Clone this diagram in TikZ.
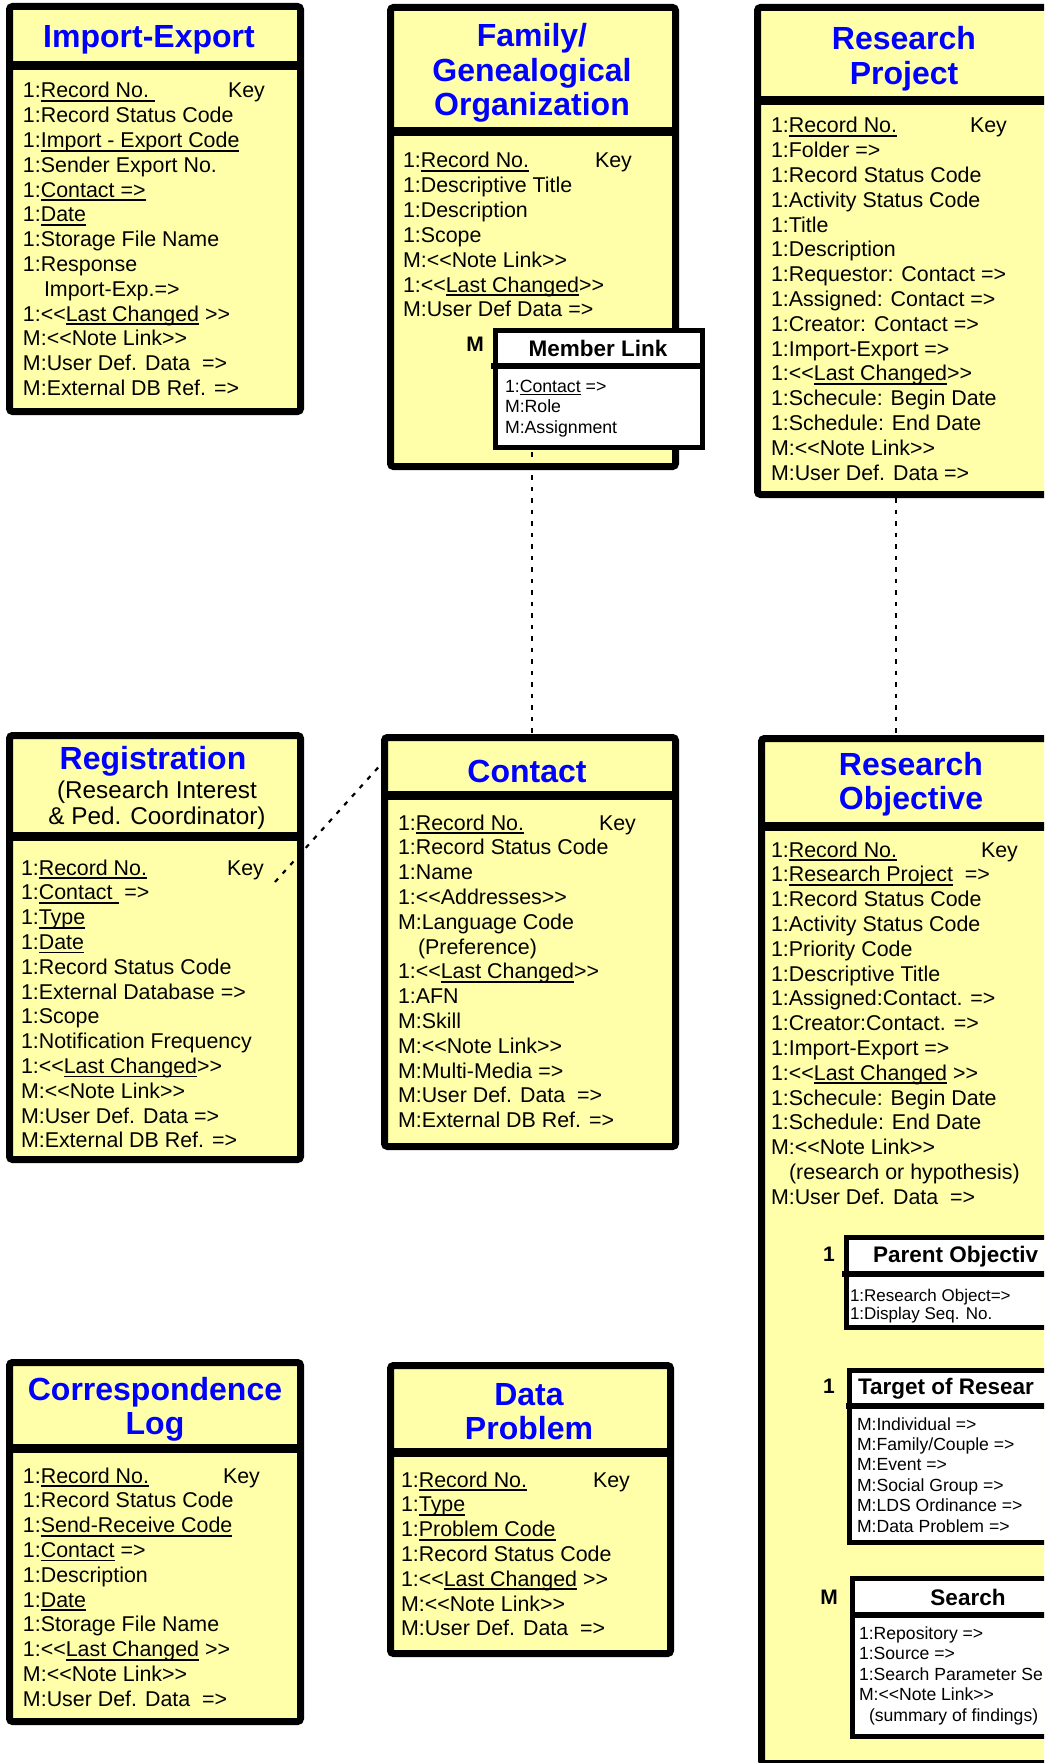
\documentclass[tikz,border=0pt]{standalone}
\usepackage{fontspec}
\setmainfont{Liberation Sans}[Ligatures=TeXOff]
\definecolor{pale}{RGB}{255,255,170}
\definecolor{tblue}{RGB}{0,0,255}
\newcommand\ulx[1]{\setbox0\hbox{#1}\rlap{\rule[-0.19em]{\wd0}{0.09em}}\box0\relax}
\newcommand\bodyf{\fontsize{21.4}{24.8}\selectfont}
\newcommand\titlef{\fontsize{32}{34.5}\selectfont\bfseries\color{tblue}}
\newcommand\subtf{\fontsize{24.3}{26}\selectfont}
\newcommand\mlf{\fontsize{17.7}{20.5}\selectfont}
\newcommand\pof{\fontsize{17}{18}\selectfont}
\newcommand\tof{\fontsize{17.6}{20.4}\selectfont}
\newcommand\lblf{\fontsize{21}{24}\selectfont\bfseries}
\newcommand\sbtf{\fontsize{22.5}{26}\selectfont\bfseries}
\begin{document}
\begin{tikzpicture}[x=1pt,y=-1pt,
  ent/.style={draw=black, line width=7pt, fill=pale, rounded corners=3pt, inner sep=0pt, outer sep=0pt, anchor=north west},
  subbox/.style={draw=black, line width=5pt, fill=white, inner sep=0pt, outer sep=0pt, anchor=north west},
  sepl/.style={line width=9pt},
  subsep/.style={line width=6.5pt},
  txt/.style={inner sep=0pt, outer sep=0pt, anchor=base west},
  ttl/.style={inner sep=0pt, outer sep=0pt, anchor=base},
  dotl/.style={line width=2.2pt, dash pattern=on 4.5pt off 7pt}]
\useasboundingbox (0,0) rectangle (1044,1763);
\fill[white] (0,0) rectangle (1044,1763);
\clip (0,0) rectangle (1044,1763);

% ---------------- Import-Export
\node[ent, minimum width=291pt, minimum height=405pt] (ie) at (9.5,6.5) {};
\draw[sepl] (6,66) -- (304,66);
\node[ttl] (ie-t) at (149,48) {\titlef Import-Export};
\node[txt, font=\bodyf] (ie-b) at (23,98) {\begin{tabular}[t]{@{}l@{}}
1:\ulx{Record No.\ }\\
1:Record Status Code\\
1:\ulx{Import - Export Code}\\
1:Sender Export No.\\
1:\ulx{Contact =>}\\
1:\ulx{Date}\\
1:Storage File Name\\
1:Response\\
\hspace*{21pt}Import-Exp.=>\\
1:<<\ulx{Last Changed} >>\\
M:<<Note Link>>\\
M:User Def. Data\ \ =>\\
M:External DB Ref. =>
\end{tabular}};
\node[txt, font=\bodyf] (ie-k) at (228,98) {Key};

% ---------------- Family / Genealogical Organization
\node[ent, minimum width=285pt, minimum height=459pt] (fam) at (390.5,7.5) {};
\draw[sepl] (387,132) -- (679,132);
\node[ttl] (fam-t) at (532,47) {\titlef\begin{tabular}[t]{@{}c@{}}Family/\\Genealogical\\Organization\end{tabular}};
\node[txt, font=\bodyf] (fam-b) at (403,168) {\begin{tabular}[t]{@{}l@{}}
1:\ulx{Record No.}\\
1:Descriptive Title\\
1:Description\\
1:Scope\\
M:<<Note Link>>\\
1:<<\ulx{Last Changed}>>\\
M:User Def Data =>
\end{tabular}};
\node[txt, font=\bodyf] (fam-k) at (595,168) {Key};
\node[ttl, font=\lblf] (ml-m) at (475,351) {M};
\node[subbox, minimum width=207pt, minimum height=117pt] (ml) at (495.5,330.5) {};
\draw[subsep] (491,366) -- (705,366);
\node[ttl, font=\fontsize{22.5}{26}\selectfont\bfseries] (ml-t) at (598,356) {Member Link};
\node[txt, font=\mlf] (ml-b) at (505,392) {\begin{tabular}[t]{@{}l@{}}
1:\ulx{Contact} =>\\
M:Role\\
M:Assignment
\end{tabular}};

% ---------------- Research Project
\node[ent, minimum width=293pt, minimum height=487pt] (rp) at (757.5,7.5) {};
\draw[sepl] (754,100.5) -- (1054,100.5);
\node[ttl] (rp-t) at (904,50) {\titlef\begin{tabular}[t]{@{}c@{}}Research\\Project\end{tabular}};
\node[txt, font=\bodyf] (rp-b) at (771,133) {\begin{tabular}[t]{@{}l@{}}
1:\ulx{Record No.}\\
1:Folder =>\\
1:Record Status Code\\
1:Activity Status Code\\
1:Title\\
1:Description\\
1:Requestor: Contact =>\\
1:Assigned: Contact =>\\
1:Creator: Contact =>\\
1:Import-Export =>\\
1:<<\ulx{Last Changed}>>\\
1:Schecule: Begin Date\\
1:Schedule: End Date\\
M:<<Note Link>>\\
M:User Def. Data =>
\end{tabular}};
\node[txt, font=\bodyf] (rp-k) at (970,133) {Key};

% ---------------- Registration
\node[ent, minimum width=291pt, minimum height=424pt] (reg) at (9.5,735.5) {};
\draw[sepl] (6,836.5) -- (304,836.5);
\node[ttl] (reg-t) at (153,769) {\titlef Registration};
\node[ttl, font=\subtf] (reg-s) at (157,798) {\begin{tabular}[t]{@{}c@{}}(Research Interest\\\& Ped. Coordinator)\end{tabular}};
\node[txt, font=\bodyf] (reg-b) at (21,875) {\begin{tabular}[t]{@{}l@{}}
1:\ulx{Record No.}\\
1:\ulx{Contact\ } =>\\
1:\ulx{Type}\\
1:\ulx{Date}\\
1:Record Status Code\\
1:External Database =>\\
1:Scope\\
1:Notification Frequency\\
1:<<\ulx{Last Changed}>>\\
M:<<Note Link>>\\
M:User Def. Data =>\\
M:External DB Ref. =>
\end{tabular}};
\node[txt, font=\bodyf] (reg-k) at (227,875) {Key};

% ---------------- Contact
\node[ent, minimum width=291pt, minimum height=409pt] (con) at (384.5,737.5) {};
\draw[sepl] (381,795) -- (679,795);
\node[ttl] (con-t) at (527,782) {\titlef Contact};
\node[txt, font=\bodyf] (con-b) at (398,830) {\begin{tabular}[t]{@{}l@{}}
1:\ulx{Record No.}\\
1:Record Status Code\\
1:Name\\
1:<<Addresses>>\\
M:Language Code\\
\hspace*{20pt}(Preference)\\
1:<<\ulx{Last Changed}>>\\
1:AFN\\
M:Skill\\
M:<<Note Link>>\\
M:Multi-Media =>\\
M:User Def. Data\ \ =>\\
M:External DB Ref. =>
\end{tabular}};
\node[txt, font=\bodyf] (con-k) at (599,830) {Key};

% ---------------- Research Objective
\node[ent, minimum width=299pt, minimum height=1025pt] (ro) at (761.5,738.5) {};
\draw[sepl] (758,826) -- (1064,826);
\node[ttl] (ro-t) at (911,775) {\titlef\begin{tabular}[t]{@{}c@{}}Research\\Objective\end{tabular}};
\node[txt, font=\bodyf] (ro-b) at (771,857) {\begin{tabular}[t]{@{}l@{}}
1:\ulx{Record No.}\\
1:\ulx{Research Project}\ \ =>\\
1:Record Status Code\\
1:Activity Status Code\\
1:Priority Code\\
1:Descriptive Title\\
1:Assigned:Contact. =>\\
1:Creator:Contact. =>\\
1:Import-Export =>\\
1:<<\ulx{Last Changed} >>\\
1:Schecule: Begin Date\\
1:Schedule: End Date\\
M:<<Note Link>>\\
\hspace*{18pt}(research or hypothesis)\\
M:User Def. Data\ \ =>
\end{tabular}};
\node[txt, font=\bodyf] (ro-k) at (981,857) {Key};

% Parent Objective
\node[ttl, font=\lblf] (po-n) at (829,1261) {1};
\node[subbox, minimum width=234pt, minimum height=90pt] (po) at (846.5,1237.5) {};
\draw[subsep] (842,1274) -- (1083,1274);
\node[txt, font=\sbtf] (po-t) at (873,1262) {Parent Objectiv};
\node[txt, font=\pof] (po-b) at (850,1301) {\begin{tabular}[t]{@{}l@{}}
1:Research Object=>\\
1:Display Seq. No.
\end{tabular}};

% Target of Research
\node[ttl, font=\lblf] (tr-n) at (829,1393) {1};
\node[subbox, minimum width=231pt, minimum height=172pt] (tr) at (849.5,1370.5) {};
\draw[subsep] (846,1406) -- (1083,1406);
\node[txt, font=\sbtf] (tr-t) at (858,1394) {Target of Resear};
\node[txt, font=\tof] (tr-b) at (857,1430) {\begin{tabular}[t]{@{}l@{}}
M:Individual =>\\
M:Family/Couple =>\\
M:Event =>\\
M:Social Group =>\\
M:LDS Ordinance =>\\
M:Data Problem =>
\end{tabular}};

% Search
\node[ttl, font=\lblf] (se-n) at (829,1604) {M};
\node[subbox, minimum width=231pt, minimum height=158pt] (se) at (852.5,1578.5) {};
\draw[subsep] (850,1615) -- (1086,1615);
\node[ttl, font=\sbtf] (se-t) at (968,1605) {Search};
\node[txt, font=\fontsize{17.6}{20.5}\selectfont] (se-b) at (859,1639) {\begin{tabular}[t]{@{}l@{}}
1:Repository =>\\
1:Source =>\\
1:Search Parameter Se\\
M:<<Note Link>>\\
\hspace*{10pt}(summary of findings)
\end{tabular}};

% ---------------- Correspondence Log
\node[ent, minimum width=291pt, minimum height=359pt] (cor) at (9.5,1362.5) {};
\draw[sepl] (6,1448.5) -- (304,1448.5);
\node[ttl] (cor-t) at (155,1400) {\titlef\begin{tabular}[t]{@{}c@{}}Correspondence\\Log\end{tabular}};
\node[txt, font=\bodyf] (cor-b) at (23,1483) {\begin{tabular}[t]{@{}l@{}}
1:\ulx{Record No.}\\
1:Record Status Code\\
1:\ulx{Send-Receive Code}\\
1:\ulx{Contact} =>\\
1:Description\\
1:\ulx{Date}\\
1:Storage File Name\\
1:<<\ulx{Last Changed} >>\\
M:<<Note Link>>\\
M:User Def. Data\ \ =>
\end{tabular}};
\node[txt, font=\bodyf] (cor-k) at (223,1483) {Key};

% ---------------- Data Problem
\node[ent, minimum width=280pt, minimum height=288pt] (dp) at (390.5,1365.5) {};
\draw[sepl] (387,1452.5) -- (674,1452.5);
\node[ttl] (dp-t) at (529,1405) {\titlef\begin{tabular}[t]{@{}c@{}}Data\\Problem\end{tabular}};
\node[txt, font=\bodyf] (dp-b) at (401,1487) {\begin{tabular}[t]{@{}l@{}}
1:\ulx{Record No.}\\
1:\ulx{Type}\\
1:\ulx{Problem Code}\\
1:Record Status Code\\
1:<<\ulx{Last Changed} >>\\
M:<<Note Link>>\\
M:User Def. Data\ \ =>
\end{tabular}};
\node[txt, font=\bodyf] (dp-k) at (593,1487) {Key};

% ---------------- dotted connectors
\coordinate (famdot) at (532,452);
\draw[dotl] (famdot) -- (famdot |- con.north);
\coordinate (rpdot) at (896,498);
\draw[dotl] (rpdot) -- (rpdot |- ro.north);
\coordinate (regdot) at (275,882);
\coordinate (conw) at (384,761);
\draw[dotl] (regdot) -- (conw);
\end{tikzpicture}
\end{document}
